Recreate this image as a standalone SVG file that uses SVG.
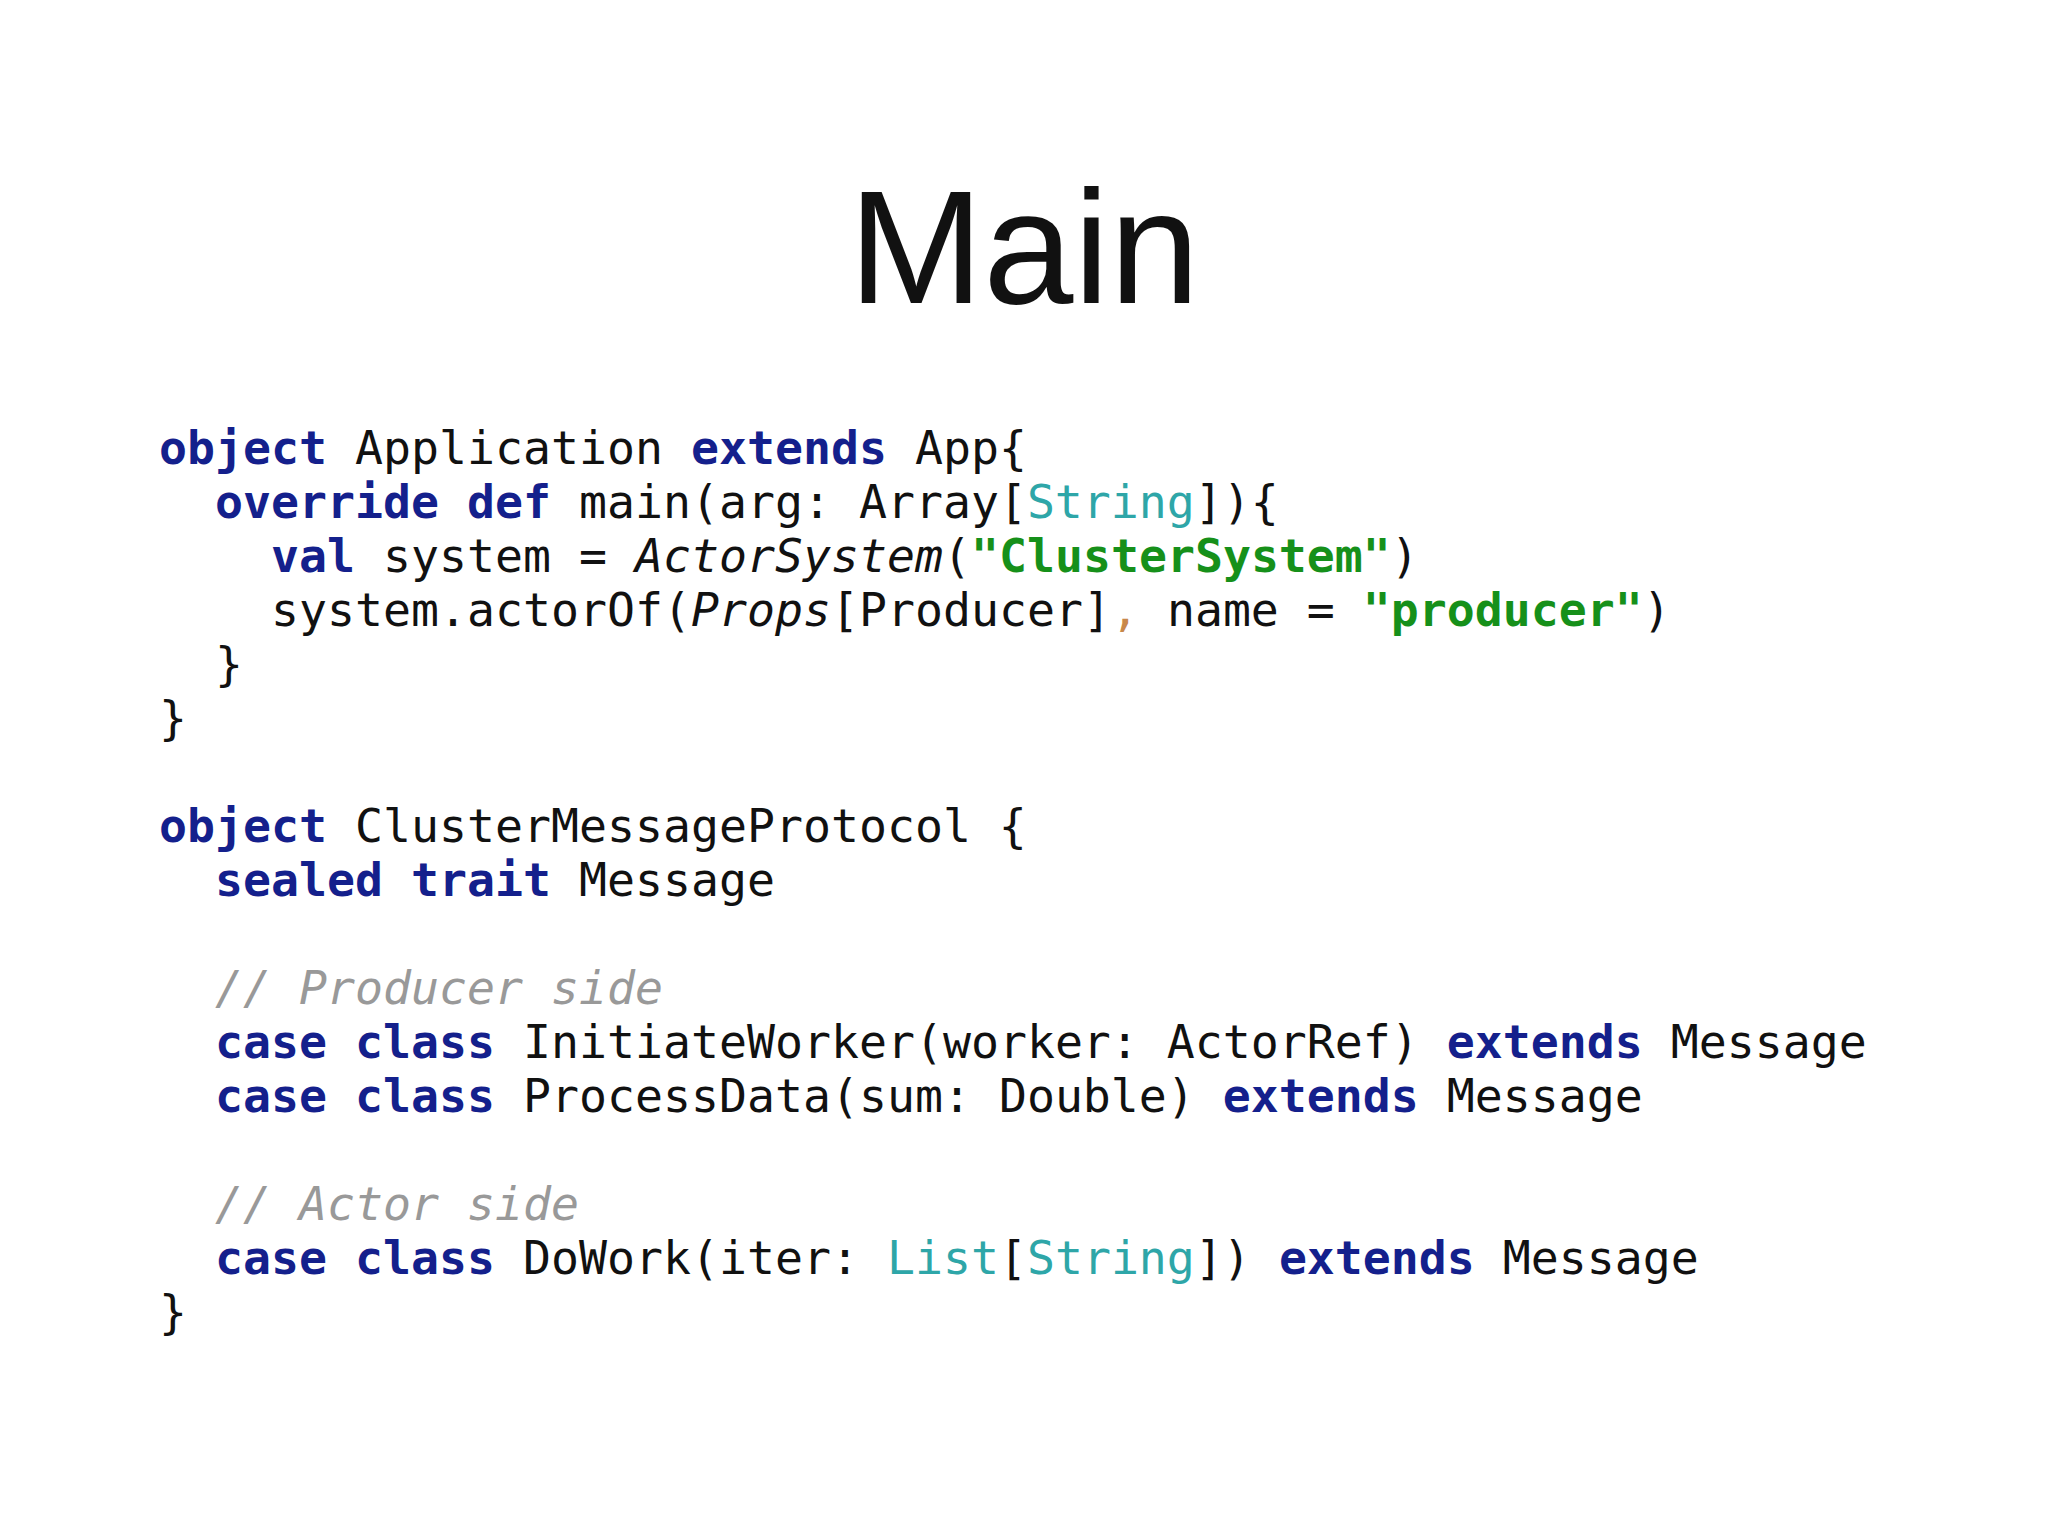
<svg xmlns="http://www.w3.org/2000/svg" width="2048" height="1536" viewBox="0 0 2048 1536">
<style>
.c{font-family:"DejaVu Sans Mono","Liberation Mono",monospace;font-size:46.5px;fill:#111}
.k{fill:#14208c;font-weight:bold}
.t{fill:#2ea6a8}
.s{fill:#16901a;font-weight:bold}
.m{fill:#999;font-style:italic}
.i{font-style:italic}
.o{fill:#c8884a}
</style>
<rect width="2048" height="1536" fill="#fff"/>
<text x="1024" y="303" text-anchor="middle" font-family="Liberation Sans, Arial, sans-serif" font-size="162" fill="#111">Main</text>
<g id="code" class="c" xml:space="preserve">
<text x="159" y="464"><tspan class="k">object</tspan> Application <tspan class="k">extends</tspan> App{</text>
<text x="215" y="518"><tspan class="k">override def</tspan> main(arg: Array[<tspan class="t">String</tspan>]){</text>
<text x="271" y="572"><tspan class="k">val</tspan> system = <tspan class="i">ActorSystem</tspan>(<tspan class="s">"ClusterSystem"</tspan>)</text>
<text x="271" y="626">system.actorOf(<tspan class="i">Props</tspan>[Producer]<tspan class="o">,</tspan> name = <tspan class="s">"producer"</tspan>)</text>
<text x="215" y="680">}</text>
<text x="159" y="734">}</text>
<text x="159" y="842"><tspan class="k">object</tspan> ClusterMessageProtocol {</text>
<text x="215" y="896"><tspan class="k">sealed trait</tspan> Message</text>
<text x="215" y="1004"><tspan class="m">// Producer side</tspan></text>
<text x="215" y="1058"><tspan class="k">case class</tspan> InitiateWorker(worker: ActorRef) <tspan class="k">extends</tspan> Message</text>
<text x="215" y="1112"><tspan class="k">case class</tspan> ProcessData(sum: Double) <tspan class="k">extends</tspan> Message</text>
<text x="215" y="1220"><tspan class="m">// Actor side</tspan></text>
<text x="215" y="1274"><tspan class="k">case class</tspan> DoWork(iter: <tspan class="t">List</tspan>[<tspan class="t">String</tspan>]) <tspan class="k">extends</tspan> Message</text>
<text x="159" y="1328">}</text>
</g>
</svg>
